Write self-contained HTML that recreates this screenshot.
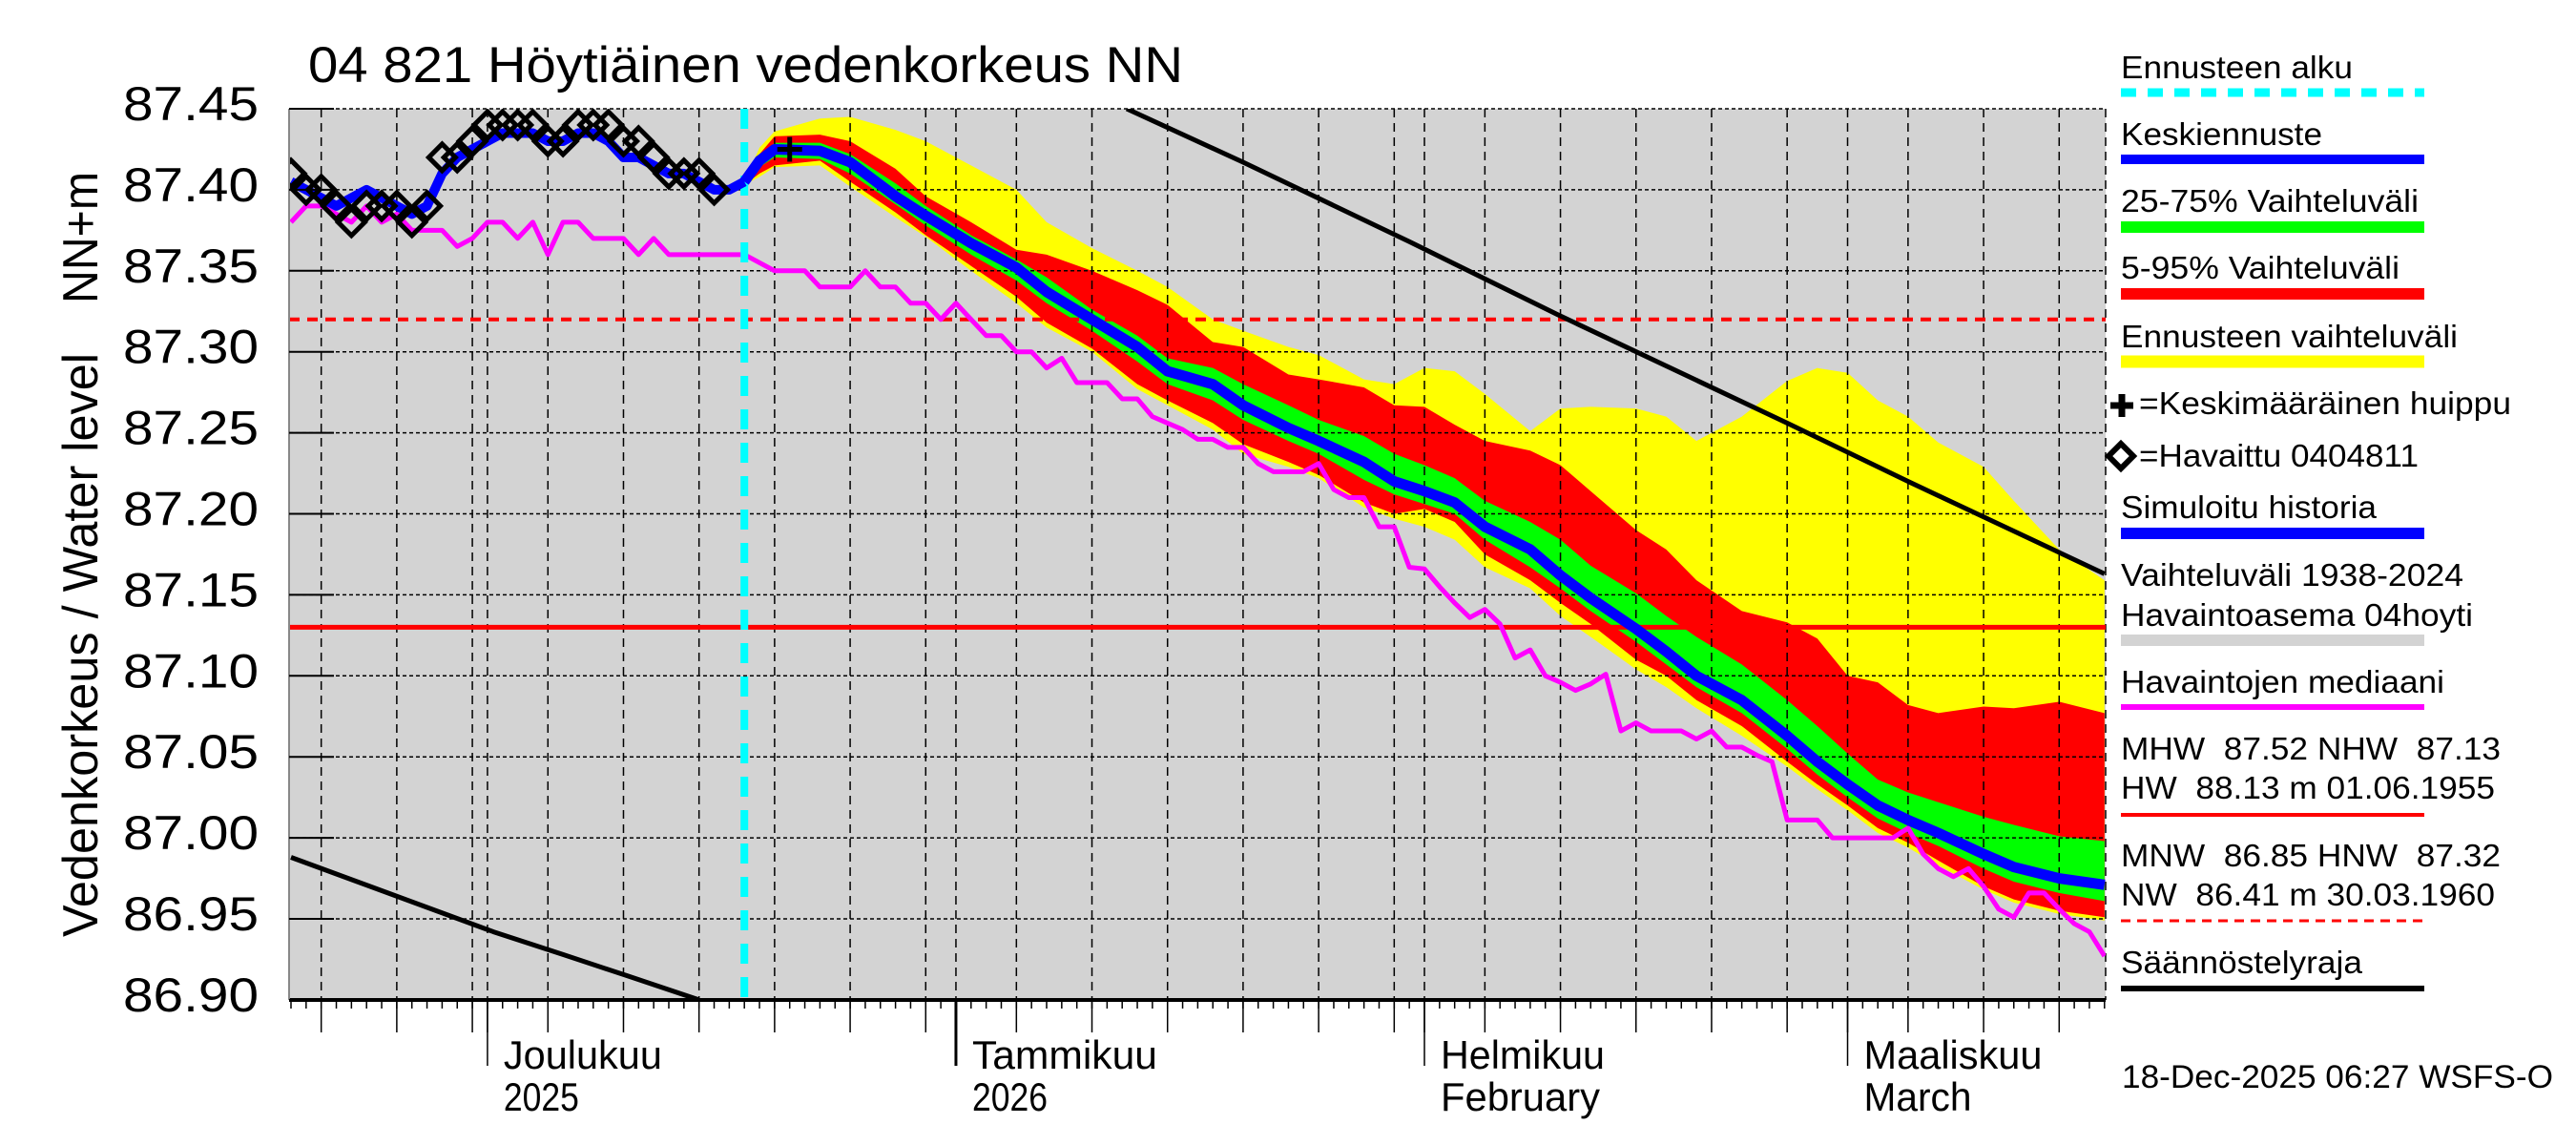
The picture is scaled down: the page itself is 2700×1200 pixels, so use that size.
<!DOCTYPE html>
<html><head><meta charset="utf-8"><style>
html,body{margin:0;padding:0;background:#fff;}
svg{display:block;}
text{font-family:"Liberation Sans",sans-serif;fill:#000;white-space:pre;}
</style></head><body>
<svg id="chart" xmlns="http://www.w3.org/2000/svg" width="2700" height="1200" viewBox="0 0 2700 1200">
<defs><clipPath id="pc"><rect x="303" y="114" width="1904" height="934"/></clipPath></defs>
<rect x="303" y="114" width="1904" height="934" fill="#d3d3d3"/>
<g id="bands" clip-path="url(#pc)"></g>
<g id="grid"></g>
<g id="series" clip-path="url(#pc)"></g>
<g id="axes"></g>
<text x="323" y="86" font-size="53" textLength="917" lengthAdjust="spacingAndGlyphs">04 821 Höytiäinen vedenkorkeus NN</text>
<text transform="translate(102,318) rotate(-90)" font-size="52" textLength="138" lengthAdjust="spacingAndGlyphs">NN+m</text>
<text transform="translate(102,982) rotate(-90)" font-size="52" textLength="612" lengthAdjust="spacingAndGlyphs">Vedenkorkeus / Water level</text>
<g id="legend"></g>
<text x="2224" y="1140" font-size="34" textLength="452" lengthAdjust="spacingAndGlyphs">18-Dec-2025 06:27 WSFS-O</text>
</svg>
<script>
// ---- data ----
const obsValues = [87.41,87.40,87.40,87.39,87.38,87.39,87.39,87.39,87.38,87.39,87.42,87.42,87.43,87.44,87.44,87.44,87.44,87.43,87.43,87.44,87.44,87.44,87.43,87.43,87.42,87.41,87.41,87.41,87.40];
const histValues = [87.405,87.40,87.395,87.39,87.395,87.40,87.395,87.39,87.385,87.39,87.41,87.42,87.425,87.43,87.435,87.435,87.435,87.43,87.43,87.435,87.435,87.43,87.42,87.42,87.415,87.41,87.41,87.405,87.40,87.40,87.405];
const medianValues = [87.38,87.39,87.39,87.385,87.38,87.39,87.38,87.385,87.375,87.375,87.375,87.365,87.37,87.38,87.38,87.37,87.38,87.36,87.38,87.38,87.37,87.37,87.37,87.36,87.37,87.36,87.36,87.36,87.36,87.36,87.36,87.355,87.35,87.35,87.35,87.34,87.34,87.34,87.35,87.34,87.34,87.33,87.33,87.32,87.33,87.32,87.31,87.31,87.30,87.30,87.29,87.296,87.281,87.281,87.281,87.271,87.271,87.26,87.256,87.252,87.246,87.246,87.241,87.241,87.231,87.226,87.226,87.226,87.231,87.215,87.21,87.21,87.192,87.192,87.167,87.166,87.155,87.145,87.136,87.141,87.132,87.111,87.116,87.10,87.096,87.091,87.095,87.101,87.066,87.071,87.066,87.066,87.066,87.061,87.066,87.056,87.056,87.051,87.047,87.011,87.011,87.011,87.00,87.00,87.00,87.00,87.00,87.006,86.99,86.981,86.976,86.981,86.97,86.956,86.951,86.966,86.966,86.956,86.947,86.942,86.927];
const fcDays = [30,31,32,35,37,40,42,45,48,50,53,56,58,61,63,66,68,71,73,75,77,79,82,84,86,89,91,93,96,99,101,103,105,107,109,112,114,117,120];
const yellowTop = [87.405,87.426,87.436,87.444,87.445,87.437,87.430,87.415,87.400,87.380,87.364,87.350,87.340,87.320,87.313,87.303,87.298,87.283,87.280,87.290,87.288,87.274,87.251,87.265,87.266,87.265,87.260,87.245,87.260,87.282,87.290,87.287,87.270,87.260,87.244,87.229,87.208,87.178,87.159];
const redTop = [87.405,87.422,87.433,87.434,87.430,87.413,87.396,87.380,87.363,87.360,87.350,87.338,87.329,87.306,87.303,87.286,87.283,87.278,87.267,87.266,87.255,87.245,87.239,87.230,87.214,87.190,87.178,87.159,87.140,87.133,87.123,87.100,87.096,87.082,87.077,87.081,87.080,87.084,87.077];
const greenTop = [87.405,87.420,87.429,87.429,87.422,87.404,87.390,87.372,87.357,87.346,87.326,87.310,87.296,87.290,87.280,87.267,87.258,87.248,87.237,87.230,87.222,87.208,87.195,87.184,87.168,87.151,87.137,87.124,87.107,87.085,87.069,87.052,87.036,87.028,87.022,87.013,87.008,87.001,86.998];
const meanForecast = [87.405,87.418,87.425,87.424,87.417,87.396,87.384,87.367,87.352,87.337,87.320,87.303,87.288,87.280,87.267,87.253,87.245,87.232,87.220,87.214,87.207,87.192,87.178,87.162,87.148,87.129,87.115,87.100,87.085,87.063,87.047,87.033,87.020,87.011,87.003,86.990,86.982,86.975,86.971];
const greenBot = [87.403,87.414,87.420,87.419,87.410,87.391,87.378,87.360,87.344,87.330,87.313,87.294,87.280,87.270,87.258,87.245,87.237,87.221,87.212,87.206,87.200,87.184,87.167,87.154,87.140,87.121,87.107,87.093,87.077,87.055,87.039,87.025,87.012,87.003,86.995,86.981,86.973,86.966,86.961];
const redBot = [87.403,87.410,87.415,87.418,87.405,87.386,87.372,87.353,87.334,87.318,87.302,87.280,87.270,87.256,87.243,87.232,87.224,87.207,87.200,87.203,87.195,87.175,87.159,87.145,87.132,87.110,87.100,87.085,87.069,87.047,87.033,87.020,87.006,86.997,86.986,86.970,86.962,86.955,86.951];
const yellowBot = [87.403,87.408,87.414,87.415,87.402,87.383,87.371,87.350,87.330,87.315,87.300,87.277,87.267,87.252,87.237,87.229,87.222,87.204,87.197,87.192,87.184,87.167,87.154,87.137,87.124,87.104,87.093,87.080,87.063,87.044,87.030,87.017,87.003,86.994,86.983,86.968,86.960,86.953,86.949];
const regUpperDays = [55.3,63,74,83.8,99,107,120];
const regUpperValues = [87.45,87.417,87.368,87.323,87.256,87.22,87.163];
const regLowerDays = [0,13.4,18,22.2,27];
const regLowerValues = [86.988,86.942,86.928,86.915,86.90];
const forecastStartDay = 30;
const peakDay = 33, peakValue = 87.425;
const nhw = 87.13, hnw = 87.32;
const yTicks = [87.45,87.40,87.35,87.30,87.25,87.20,87.15,87.10,87.05,87.00,86.95,86.90];
const monthStarts = [13,44,75,103];
const monthLabels1 = ["Joulukuu","Tammikuu","Helmikuu","Maaliskuu"];
const monthLabels2 = ["2025","2026","February","March"];

// ---- scales ----
const X0=305, DX=15.84, PT=114, PB=1048, PL=303, PR=2207;
function x(d){return X0+d*DX;}
function y(v){return PT+(87.45-v)/0.05*84.9;}
const NS="http://www.w3.org/2000/svg";
function mk(tag,attrs,parent){const e=document.createElementNS(NS,tag);for(const k in attrs)e.setAttribute(k,attrs[k]);parent.appendChild(e);return e;}
const bands=document.getElementById('bands'),grid=document.getElementById('grid'),series=document.getElementById('series'),axes=document.getElementById('axes'),legend=document.getElementById('legend');

function band(top,bot,color,name){
  let p=fcDays.map((d,i)=>x(d)+','+y(top[i]));
  let q=fcDays.map((d,i)=>x(d)+','+y(bot[i])).reverse();
  const e=mk('polygon',{points:p.concat(q).join(' '),fill:color},bands);
  
  
}
band(yellowTop,yellowBot,'#ffff00','forecast-range-band');
band(redTop,redBot,'#ff0000','band-5-95');
band(greenTop,greenBot,'#00ff00','band-25-75');

const gridDays=[];
for(let d=2;d<=12;d+=5){ gridDays.push(d); }
[13,44,75,103].forEach(m=>gridDays.push(m));
const monthBase=[[13,31],[44,31],[75,28],[103,31]];
monthBase.forEach(([b,len])=>{for(let k=5;k<len;k+=5){const d=b+k-1; if(d<=120) gridDays.push(d);}});
gridDays.forEach(d=>{
  const l=mk('line',{x1:x(d),x2:x(d),y1:PT,y2:PB,stroke:'#000','stroke-width':1.5,'stroke-dasharray':'9,6'},grid);
  
  
});
mk('line',{x1:PR,x2:PR,y1:PT,y2:PB,stroke:'#000','stroke-width':1.5,'stroke-dasharray':'9,6'},grid);
yTicks.forEach(v=>{
  const l=mk('line',{x1:PL,x2:PR,y1:y(v),y2:y(v),stroke:'#000','stroke-width':1.5,'stroke-dasharray':'4,3'},grid);
  
  
});

let e;
e=mk('line',{x1:PL,x2:PR,y1:y(nhw),y2:y(nhw),stroke:'#ff0000','stroke-width':5},series);


e=mk('line',{x1:PL,x2:PR,y1:y(hnw),y2:y(hnw),stroke:'#ff0000','stroke-width':4,'stroke-dasharray':'11,8'},series);



function pl(days,vals,color,w,name){
  const e=mk('polyline',{points:days.map((d,i)=>x(d)+','+y(vals[i])).join(' '),fill:'none',stroke:color,'stroke-width':w,'stroke-linejoin':'round'},series);
  
  
}
pl(medianValues.map((_,i)=>i),medianValues,'#ff00ff',5,'observed-median-line');
pl(regUpperDays,regUpperValues,'#000',5,'regulation-limit-upper');
pl(regLowerDays,regLowerValues,'#000',5,'regulation-limit-lower');
e=mk('line',{x1:x(forecastStartDay),x2:x(forecastStartDay),y1:PT,y2:PB,stroke:'#00ffff','stroke-width':8,'stroke-dasharray':'21,14'},series);


pl(histValues.map((_,i)=>i),histValues,'#0000ff',10,'simulated-history-line');
pl(fcDays,meanForecast,'#0000ff',11,'mean-forecast-line');
obsValues.forEach((v,i)=>{
  const cx=x(i),cy=y(v),r=14;
  const d=mk('polygon',{points:`${cx},${cy-r} ${cx+r},${cy} ${cx},${cy+r} ${cx-r},${cy}`,fill:'none',stroke:'#000','stroke-width':5},series);
  
  
});
e=mk('path',{d:`M${x(peakDay)-13},${y(peakValue)}h26M${x(peakDay)},${y(peakValue)-13}v26`,stroke:'#000','stroke-width':5},series);



mk('line',{x1:PL,x2:PR,y1:PB,y2:PB,stroke:'#000','stroke-width':4},axes);
mk('line',{x1:PL,x2:PL,y1:PT,y2:PB,stroke:'#888','stroke-width':2},axes);
yTicks.forEach(v=>{
  mk('line',{x1:PL,x2:350,y1:y(v),y2:y(v),stroke:'#000','stroke-width':2},axes);
  const t=mk('text',{x:271,y:y(v)+12,'font-size':50,'text-anchor':'end',textLength:142,lengthAdjust:'spacingAndGlyphs'},axes);
  t.textContent=v.toFixed(2);
  
  
});
for(let d=0;d<=120;d++){
  mk('line',{x1:x(d),x2:x(d),y1:PB,y2:1057,stroke:'#000','stroke-width':1.5},axes);
}
gridDays.forEach(d=>mk('line',{x1:x(d),x2:x(d),y1:PB,y2:1082,stroke:'#000','stroke-width':1.5},axes));
const labW1=[166,194,172,187],labW2=[79,79,167,113];
monthStarts.forEach((d,i)=>{
  mk('line',{x1:x(d),x2:x(d),y1:PB,y2:1117,stroke:'#000','stroke-width':i==1?3:1.5},axes);
  let t=mk('text',{x:x(d)+17,y:1120,'font-size':42,textLength:labW1[i],lengthAdjust:'spacingAndGlyphs'},axes);
  t.textContent=monthLabels1[i];
  
  
  t=mk('text',{x:x(d)+17,y:1164,'font-size':42,textLength:labW2[i],lengthAdjust:'spacingAndGlyphs'},axes);
  t.textContent=monthLabels2[i];
  
  
});

function ltext(txt,yb,w,xx){
  const t=mk('text',{x:xx||2223,y:yb,'font-size':33,textLength:w,lengthAdjust:'spacingAndGlyphs'},legend);
  t.textContent=txt;
  
  
}
function lbar(yc,color,h,dash){
  const l=mk('line',{x1:2223,x2:2541,y1:yc,y2:yc,stroke:color,'stroke-width':h},legend);
  if(dash)l.setAttribute('stroke-dasharray',dash);
  
  
}
ltext('Ennusteen alku',82,243); lbar(97,'#00ffff',9,'16,12');
ltext('Keskiennuste',152,211); lbar(167,'#0000ff',10);
ltext('25-75% Vaihteluväli',222,312); lbar(238,'#00ff00',12);
ltext('5-95% Vaihteluväli',292,292); lbar(308,'#ff0000',12);
ltext('Ennusteen vaihteluväli',364,353); lbar(379,'#ffff00',13);
mk('path',{d:'M2212,425h24M2224,413v24',stroke:'#000','stroke-width':7},legend);
ltext('=Keskimääräinen huippu',434,390,2242);
mk('polygon',{points:'2223,465 2236,478 2223,491 2210,478',fill:'none',stroke:'#000','stroke-width':6},legend);
ltext('=Havaittu 0404811',489,293,2242);
ltext('Simuloitu historia',543,268); lbar(559,'#0000ff',12);
ltext('Vaihteluväli 1938-2024',614,359);
ltext('Havaintoasema 04hoyti',656,369); lbar(671,'#d3d3d3',12);
ltext('Havaintojen mediaani',726,339); lbar(741,'#ff00ff',6);
ltext('MHW  87.52 NHW  87.13',796,398);
ltext('HW  88.13 m 01.06.1955',837,392); lbar(854,'#ff0000',4);
ltext('MNW  86.85 HNW  87.32',908,398);
ltext('NW  86.41 m 30.03.1960',949,392); lbar(965,'#ff0000',3,'10,7');
ltext('Säännöstelyraja',1020,253); lbar(1036,'#000',6);
</script>
</body></html>
